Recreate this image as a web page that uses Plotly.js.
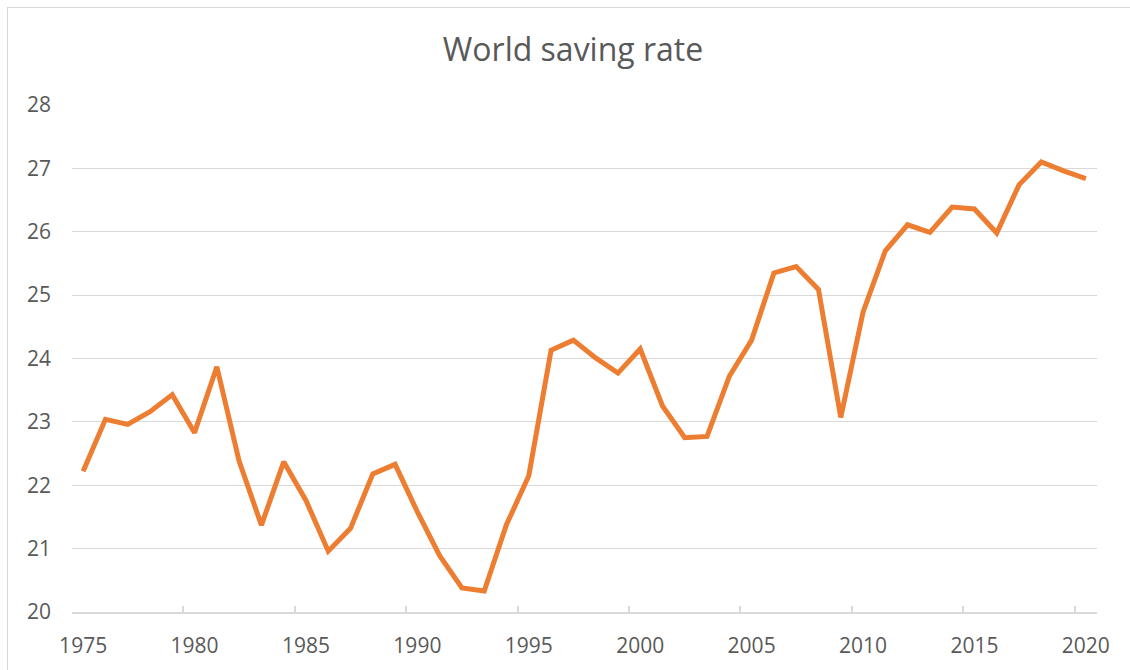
<!DOCTYPE html>
<html>
<head>
<meta charset="utf-8">
<script src="https://cdn.plot.ly/plotly-3.0.1.min.js"></script>
<style>
  html, body { margin: 0; padding: 0; background: #ffffff; overflow: hidden; }
  #chart { position: absolute; left: 0; top: 0; width: 1130px; height: 670px; }
  #frame { position: absolute; left: 7px; top: 7px; width: 1200px; height: 800px;
           border: 1px solid #d9d9d9; pointer-events: none; box-sizing: border-box; }
</style>
</head>
<body>
<div id="chart"></div>
<div id="frame"></div>
<script>
const chartTitle = "World saving rate";
const years = [1975, 1976, 1977, 1978, 1979, 1980, 1981, 1982, 1983, 1984,
               1985, 1986, 1987, 1988, 1989, 1990, 1991, 1992, 1993, 1994,
               1995, 1996, 1997, 1998, 1999, 2000, 2001, 2002, 2003, 2004,
               2005, 2006, 2007, 2008, 2009, 2010, 2011, 2012, 2013, 2014,
               2015, 2016, 2017, 2018, 2019, 2020];
const savingRate = [22.22, 23.04, 22.96, 23.16, 23.43, 22.83, 23.87, 22.38, 21.37, 22.37,
                    21.76, 20.96, 21.32, 22.18, 22.33, 21.58, 20.89, 20.38, 20.33, 21.38,
                    22.15, 24.13, 24.29, 24.01, 23.77, 24.15, 23.25, 22.75, 22.77, 23.72,
                    24.29, 25.35, 25.45, 25.09, 23.07, 24.73, 25.70, 26.11, 25.99, 26.39,
                    26.36, 25.98, 26.74, 27.10, 26.96, 26.84];
const yTicks = [20, 21, 22, 23, 24, 25, 26, 27, 28];

const trace = {
  type: "scatter",
  mode: "lines",
  x: years.map(String),
  y: savingRate,
  line: { color: "#ED7D31", width: 5, shape: "linear" },
  hoverinfo: "x+y",
  showlegend: false
};

const fontFam = "'Open Sans', 'Noto Sans', sans-serif";

const layout = {
  width: 1130,
  height: 670,
  margin: { l: 72, r: 33, t: 105, b: 58, pad: 0 },
  paper_bgcolor: "rgba(0,0,0,0)",
  plot_bgcolor: "rgba(0,0,0,0)",
  title: {
    text: chartTitle,
    font: { family: fontFam, size: 32, color: "#595959" },
    x: 573 / 1130, xref: "container", xanchor: "center",
    y: 1 - 50 / 670, yref: "container", yanchor: "middle"
  },
  xaxis: {
    type: "category",
    range: [-0.5, years.length - 0.5],
    tickmode: "linear",
    tick0: 0,
    dtick: 5,
    tickson: "boundaries",
    tickangle: 0,
    ticks: "inside",
    ticklen: 6,
    tickwidth: 1.5,
    tickcolor: "#d9d9d9",
    showgrid: false,
    showline: true,
    linecolor: "#d9d9d9",
    linewidth: 2,
    zeroline: false,
    ticklabelstandoff: 14,
    tickfont: { family: fontFam, size: 21, color: "#595959" },
    fixedrange: true
  },
  yaxis: {
    range: [20, 28],
    tickmode: "array",
    tickvals: yTicks,
    ticktext: yTicks.map(String),
    showgrid: true,
    gridcolor: "#d9d9d9",
    gridwidth: 1.3,
    zeroline: false,
    showline: false,
    ticks: "",
    ticklabelstandoff: 20,
    tickfont: { family: fontFam, size: 21, color: "#595959" },
    fixedrange: true
  },
  hovermode: "closest"
};

Plotly.newPlot("chart", [trace], layout, { displayModeBar: false, staticPlot: false, responsive: false });
</script>
</body>
</html>
